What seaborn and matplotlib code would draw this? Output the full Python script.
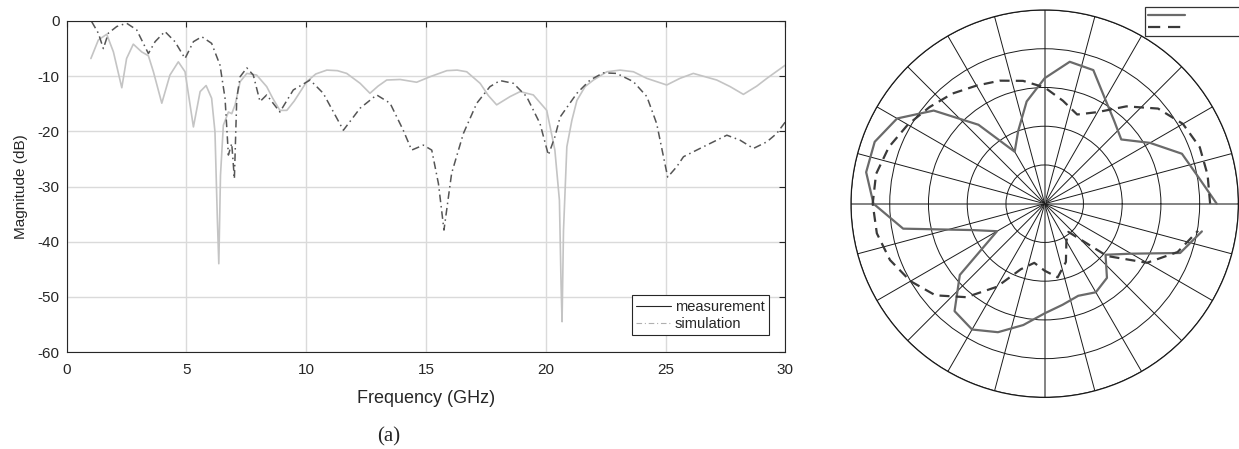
import numpy as np
import pandas as pd
import seaborn as sns
import matplotlib.pyplot as plt
from matplotlib.lines import Line2D

# ---- S-parameter curves ----
meas_f = [1.01, 1.32, 1.67, 1.95, 2.30, 2.5, 2.78, 3.13, 3.41, 3.62, 3.97, 4.31, 4.66, 4.94,
          5.29, 5.57, 5.82, 6.05, 6.19, 6.29, 6.35, 6.42, 6.54, 6.75, 6.89, 7.03, 7.24, 7.52,
          7.93, 8.35, 8.6, 8.9, 9.19, 9.5, 10.02, 10.4, 10.86, 11.3, 11.69, 12.25, 12.66, 13.0,
          13.36, 13.92, 14.61, 15.17, 15.87, 16.3, 16.7, 17.26, 17.6, 17.95, 18.51, 18.93,
          19.48, 20.04, 20.38, 20.57, 20.64, 20.68, 20.74, 20.88, 21.09, 21.3, 21.64, 21.99,
          22.55, 23.1, 23.66, 24.22, 25.05, 25.6, 26.16, 27.14, 27.7, 28.25, 28.81, 29.23, 30.0]
meas_db = [-6.8, -3.45, -2.4, -5.6, -12.1, -6.8, -4.2, -5.6, -6.3, -9.2, -14.9, -9.8, -7.4, -9.2,
           -19.2, -12.8, -11.7, -14.0, -20.1, -36, -44, -28, -18.9, -16.5, -16.8, -15.2, -11.0, -9.5,
           -9.8, -11.9, -14.0, -16.2, -16.2, -14.5, -11.0, -9.6, -8.9, -9.0, -9.5, -11.3, -13.1, -11.8,
           -10.7, -10.6, -11.1, -10.1, -9.0, -8.9, -9.2, -11.3, -13.5, -15.2, -13.7, -12.8,
           -13.4, -16.2, -23.4, -32.5, -48, -54.5, -38, -22.8, -18.0, -14.4, -11.9, -10.7,
           -9.2, -8.9, -9.2, -10.4, -11.6, -10.4, -9.5, -10.7, -11.9, -13.3, -11.8, -10.4, -8.0]

sim_f = [1.04, 1.32, 1.53, 1.74, 2.09, 2.5, 2.92, 3.41, 3.69, 4.1, 4.52, 4.94, 5.29, 5.64, 6.05,
         6.4, 6.61, 6.75, 6.89, 7.0, 7.1, 7.24, 7.52, 7.79, 8.07, 8.35, 8.9, 9.46, 10.16, 10.71,
         11.55, 12.25, 12.94, 13.5, 14.05, 14.4, 14.89, 15.24, 15.52, 15.75, 16.07, 16.56, 17.12,
         17.67, 18.09, 18.65, 19.2, 19.76, 20.11, 20.38, 20.6, 21.3, 21.85, 22.4, 22.96, 23.66,
         24.22, 24.63, 25.09, 25.47, 25.75, 26.44, 27.0, 27.56, 28.11, 28.67, 29.23, 29.64, 30.0]
sim_db = [-0.1, -2.2, -5.0, -2.2, -1.0, -0.4, -1.6, -5.9, -3.75, -1.9, -3.75, -6.8, -3.75, -2.85, -4.05,
          -8.0, -14.0, -24.3, -22.2, -28.6, -14.0, -10.1, -8.5, -9.8, -14.6, -13.4, -16.5, -12.5, -10.7, -13.1,
          -19.8, -15.8, -13.4, -14.9, -19.8, -23.4, -22.5, -23.4, -29.5, -37.9, -27.6, -20.4, -14.9,
          -11.9, -10.8, -11.3, -13.7, -18.6, -24.3, -21.0, -17.4, -13.1, -10.7, -9.4, -9.5, -11.0,
          -13.7, -18.6, -28.3, -26.4, -24.6, -23.1, -21.9, -20.7, -21.6, -23.1, -21.9, -20.4, -18.3]

# ---- radiation pattern (angle in degrees, radius in ring units) ----
pat_angle = list(range(0, 360, 10))
pat_solid = [4.44, 4.02, 3.77, 3.14, 2.58, 2.79, 3.12, 3.67, 3.72, 3.24, 2.68, 2.0,
             1.55, 2.66, 3.74, 4.40, 4.67, 4.68, 4.42, 3.71, 1.99, 1.42, 2.86, 3.62,
             3.75, 3.53, 3.18, 2.83, 2.65, 2.53, 2.64, 2.50, 2.05, 2.58, 3.72, 4.12]
pat_dash = [4.27, 4.27, 4.26, 4.12, 3.82, 3.28, 2.73, 2.45, 2.70, 3.00, 3.22, 3.38,
            3.52, 3.71, 3.88, 4.08, 4.28, 4.42, 4.44, 4.40, 4.25, 4.00, 3.68, 3.15,
            2.48, 1.80, 1.55, 1.73, 1.93, 1.60, 1.12, 0.95, 2.10, 3.05, 3.65, 4.02]

sns.set_style("white")
plt.rcParams['font.family'] = ['Liberation Sans', 'DejaVu Sans']
plt.rcParams['axes.unicode_minus'] = False

dark = "#262626"
dashdot = (0, (5, 2.5, 1, 2.5))
fig = plt.figure(figsize=(12.39, 4.49), dpi=100)

# =========================================
# left: magnitude vs frequency
# =========================================
ax = fig.add_axes([66.7 / 1239, 97 / 449, 718.6 / 1239, 331 / 449])
sns.lineplot(x=meas_f, y=meas_db, ax=ax, color="#c4c4c4", lw=1.2, sort=False)
sns.lineplot(x=sim_f, y=sim_db, ax=ax, color="#555555", lw=1.1, sort=False, linestyle=dashdot)
ax.set_xlim(0, 30)
ax.set_ylim(-60, 0)
ax.set_xticks(range(0, 31, 5))
ax.set_yticks(range(-60, 1, 10))
ax.grid(True, color="#dadada", lw=1)
for s in ax.spines.values():
    s.set_color(dark)
    s.set_linewidth(0.8)
ax.tick_params(direction="in", length=4, width=0.8, color=dark, top=True, right=True,
               labelsize=11, labelcolor=dark)
ax.tick_params(axis="x", pad=8)
ax.tick_params(axis="y", pad=5)
ax.set_xlabel("Frequency (GHz)", fontsize=13, color=dark, labelpad=9)
ax.set_ylabel("Magnitude (dB)", fontsize=11, color=dark, labelpad=7)

handles = [Line2D([], [], color=dark, lw=0.8),
           Line2D([], [], color="#b0b0b0", lw=0.8, linestyle=dashdot)]
leg = ax.legend(handles, ["measurement", "simulation"], loc="lower right",
                bbox_to_anchor=(0.977, 0.051), borderaxespad=0, fancybox=False,
                framealpha=1, edgecolor=dark, fontsize=10.5, handlelength=2.4,
                handletextpad=0.25, borderpad=0.3, labelspacing=0.2)
leg.get_frame().set_linewidth(0.8)

fig.text(389 / 1239, 1 - 437 / 449, "(a)", ha="center", va="center", fontsize=15,
         family=["Liberation Serif", "DejaVu Serif"])

# =========================================
# right: polar pattern
# =========================================
pax = fig.add_axes([851 / 1239, 51.6 / 449, 387.4 / 1239, 387.4 / 449], projection="polar")
th = np.deg2rad(pat_angle + [pat_angle[0]])
sns.lineplot(x=th, y=pat_solid + [pat_solid[0]], ax=pax, color="#6a6a6a", lw=1.6, sort=False)
sns.lineplot(x=th, y=pat_dash + [pat_dash[0]], ax=pax, color="#3a3a3a", lw=1.6, sort=False,
             linestyle=(0, (4.5, 2.8)))
pax.set_ylim(0, 5)
pax.set_yticks([1, 2, 3, 4, 5])
pax.set_xticks(np.deg2rad(np.arange(0, 360, 15)))
pax.set_xticklabels([])
pax.set_yticklabels([])
pax.set_xlabel("")
pax.set_ylabel("")
pax.grid(True, color="#1a1a1a", lw=0.7)
for i, gl in enumerate(pax.xaxis.get_gridlines()):
    if i % 6 == 0:
        gl.set_color("#7a7a7a")
        gl.set_linewidth(1.3)
pax.spines["polar"].set_color("#1a1a1a")
pax.spines["polar"].set_linewidth(0.9)

ph = [Line2D([], [], color="#6a6a6a", lw=1.6),
      Line2D([], [], color="#3a3a3a", lw=1.6, linestyle=(0, (5.5, 3.5)))]
pleg = fig.legend(ph, [" " * 24, " " * 24], loc="upper left",
                  bbox_to_anchor=(1145 / 1239, 1 - 7 / 449), borderaxespad=0,
                  fancybox=False, framealpha=1, edgecolor="#333333", fontsize=7,
                  handlelength=3.8, borderpad=0.35, labelspacing=0.2)
pleg.get_frame().set_linewidth(0.9)

fig.savefig("out.png", dpi=100)
